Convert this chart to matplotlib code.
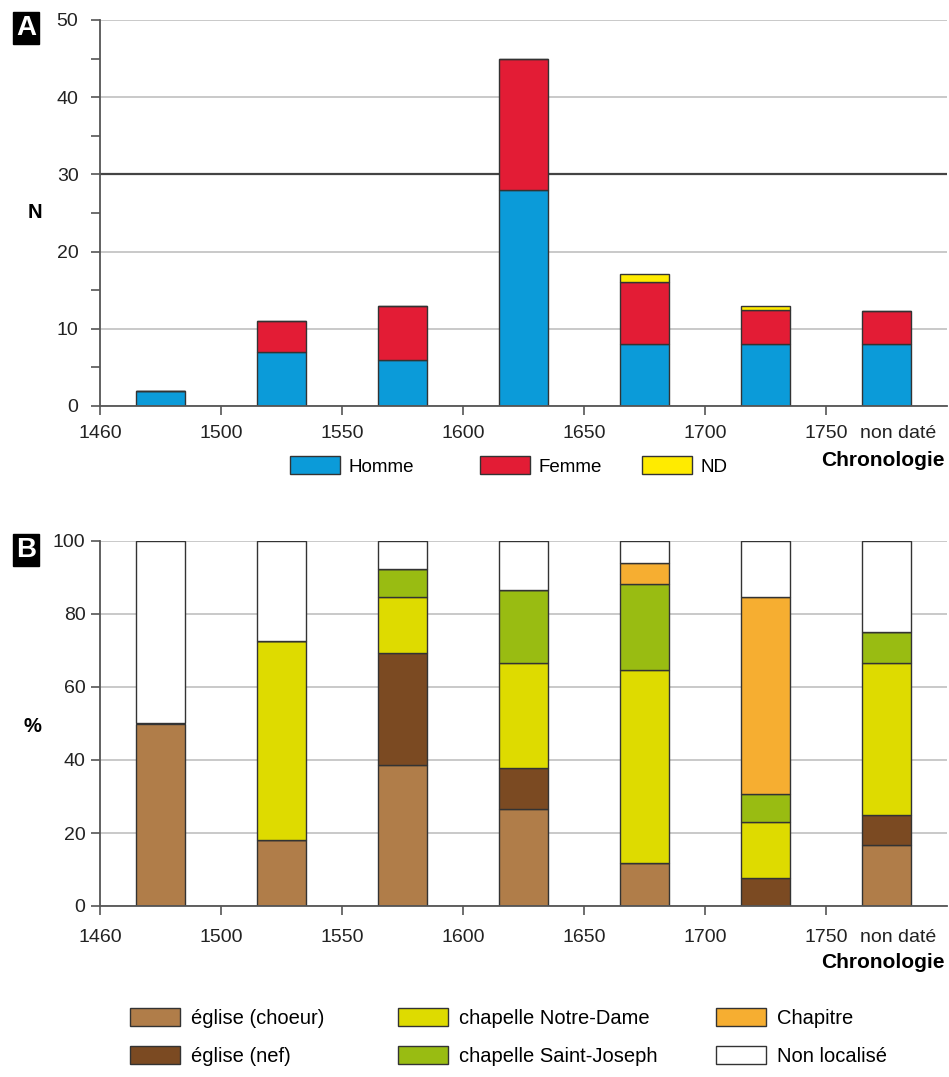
import numpy as np
import matplotlib
matplotlib.use("Agg")
import matplotlib.pyplot as plt
from matplotlib.patches import Patch

plt.rcParams['font.family'] = ['Liberation Sans', 'DejaVu Sans']

# periodes (ticks) et derniere categorie
ticks_periodes = ["1460", "1500", "1550", "1600", "1650", "1700", "1750"]
non_date = "non daté"

# A : effectifs par sexe
homme = [2, 7, 6, 28, 8, 8, 8]
femme = [0, 4, 7, 17, 8, 4.4, 4.3]
nd = [0, 0, 0, 0, 1.1, 0.5, 0]

# B : localisation (%)
choeur = [50, 18.2, 38.5, 26.7, 11.8, 0, 16.7]
nef = [0, 0, 30.8, 11.1, 0, 7.7, 8.3]
notre_dame = [0, 54.5, 15.4, 28.9, 52.9, 15.4, 41.7]
saint_joseph = [0, 0, 7.7, 20.0, 23.5, 7.7, 8.3]
chapitre = [0, 0, 0, 0, 5.9, 53.8, 0]
non_localise = [50, 27.3, 7.7, 13.3, 5.9, 15.4, 25.0]

series_A = [("Homme", homme, "#0b9bd9"),
            ("Femme", femme, "#e31c35"),
            ("ND", nd, "#ffeb00")]
series_B = [("église (choeur)", choeur, "#b07d49"),
            ("église (nef)", nef, "#7b4a22"),
            ("chapelle Notre-Dame", notre_dame, "#dedb00"),
            ("chapelle Saint-Joseph", saint_joseph, "#99bc12"),
            ("Chapitre", chapitre, "#f6ae31"),
            ("Non localisé", non_localise, "#ffffff")]

W, H = 949, 1077
fig = plt.figure(figsize=(W / 100, H / 100), dpi=100)

x = np.arange(len(homme)) + 0.5
largeur = 0.41
edge = "#333333"


def style_axes(ax, ypad, xpad):
    for s in ["top", "right"]:
        ax.spines[s].set_visible(False)
    for s in ["left", "bottom"]:
        ax.spines[s].set_color("#555555")
        ax.spines[s].set_linewidth(1.3)
    ax.set_xlim(0, 7)
    ax.set_xticks(range(len(ticks_periodes)))
    ax.set_xticklabels(ticks_periodes)
    ax.tick_params(axis="both", which="both", direction="out", length=6.5,
                   width=1.2, color="#555555", labelsize=14,
                   labelcolor="#222222")
    ax.tick_params(axis="y", pad=ypad)
    ax.tick_params(axis="x", pad=xpad)
    ax.set_axisbelow(True)
    ax.yaxis.grid(True, color="#bbbbbb", lw=1.1)
    ax.annotate(non_date, xy=(6.6, 0), xycoords=("data", "axes fraction"),
                xytext=(0, -(6.5 + xpad)), textcoords="offset points",
                ha="center", va="top", fontsize=14, color="#222222")


# ---- A ----
axA = fig.add_axes([100 / W, 1 - 406 / H, 847 / W, 386 / H])
bas = np.zeros(len(homme))
for nom, vals, couleur in series_A:
    axA.bar(x, vals, largeur, bottom=bas, color=couleur, edgecolor=edge,
            lw=1, zorder=2)
    bas += np.array(vals)
axA.set_ylim(0, 50)
axA.set_yticks(range(0, 51, 10))
axA.set_yticks(range(5, 50, 10), minor=True)
style_axes(axA, 9, 7)
axA.axhline(30, color="#444444", lw=1.6, zorder=1.5)

# ---- B ----
axB = fig.add_axes([100 / W, 1 - 906 / H, 847 / W, 365 / H])
bas = np.zeros(len(choeur))
for nom, vals, couleur in series_B:
    axB.bar(x, vals, largeur, bottom=bas, color=couleur, edgecolor=edge,
            lw=1, zorder=2)
    bas += np.array(vals)
axB.set_ylim(0, 100)
axB.set_yticks(range(0, 101, 20))
style_axes(axB, 4, 10)

# textes
fig.text(35 / W, 1 - 212 / H, "N", weight="bold", fontsize=14.5,
         ha="center", va="center")
fig.text(32 / W, 1 - 727 / H, "%", weight="bold", fontsize=14.5,
         ha="center", va="center")
for lettre, yc in [("A", 28), ("B", 550)]:
    fig.text(26 / W, 1 - yc / H, lettre, color="white", weight="bold",
             fontsize=20, ha="center", va="center",
             bbox=dict(facecolor="black", edgecolor="black",
                       boxstyle="square,pad=0.1"))
fig.text(945 / W, 1 - 461 / H, "Chronologie", weight="bold", fontsize=15,
         ha="right", va="center")
fig.text(945 / W, 1 - 962 / H, "Chronologie", weight="bold", fontsize=15,
         ha="right", va="center")

# legendes
pos_A = [290, 480, 642]
fs = 13.5
em = fs * 100 / 72
for (nom, vals, couleur), px in zip(series_A, pos_A):
    fig.legend(handles=[Patch(facecolor=couleur, edgecolor=edge, lw=1,
                              label=nom)],
               loc="center left", bbox_to_anchor=(px / W, 1 - 466 / H),
               frameon=False, borderpad=0, borderaxespad=0, fontsize=fs,
               handlelength=50 / em, handleheight=20 / em,
               handletextpad=9 / em)

pos_B = [(130, 1018), (130, 1056), (398, 1018), (398, 1056),
         (716, 1018), (716, 1056)]
fs = 14.5
em = fs * 100 / 72
for (nom, vals, couleur), (px, py) in zip(series_B, pos_B):
    fig.legend(handles=[Patch(facecolor=couleur, edgecolor=edge, lw=1,
                              label=nom)],
               loc="center left", bbox_to_anchor=(px / W, 1 - py / H),
               frameon=False, borderpad=0, borderaxespad=0, fontsize=fs,
               handlelength=50 / em, handleheight=20 / em,
               handletextpad=11 / em)

fig.savefig("out.png", dpi=100)
